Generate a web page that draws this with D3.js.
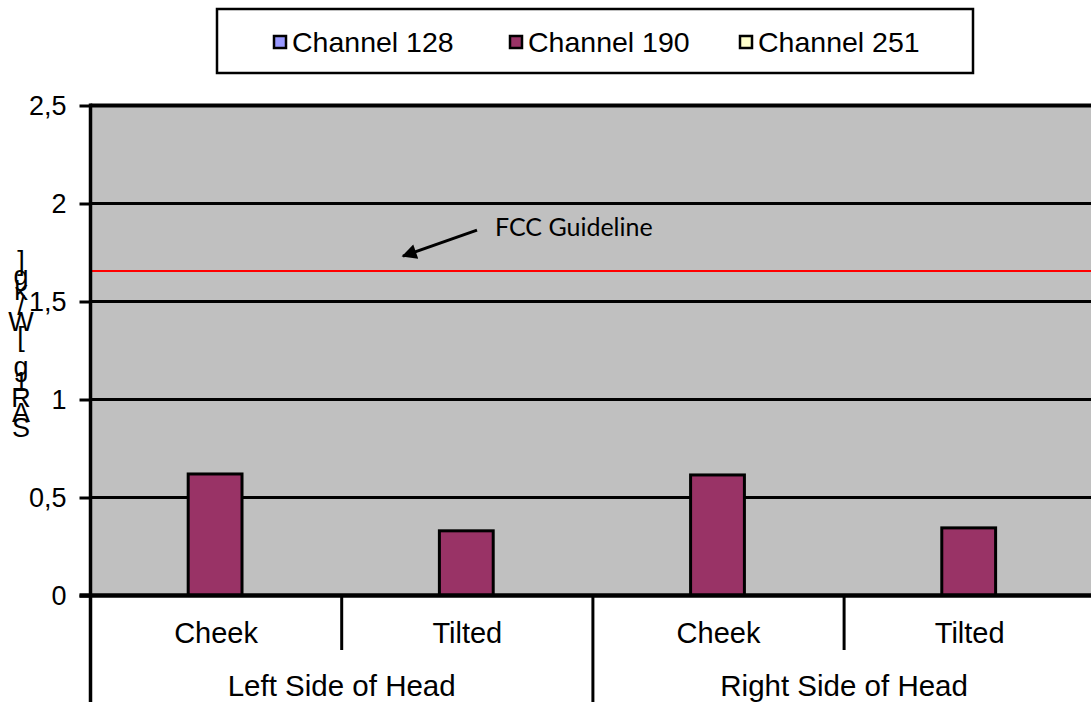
<!DOCTYPE html>
<html>
<head>
<meta charset="utf-8">
<script src="https://cdn.jsdelivr.net/npm/d3@7/dist/d3.min.js"></script>
<style>
  html, body { margin: 0; padding: 0; background: #fff; }
  svg { display: block; }
  text { font-family: "Liberation Sans", Arial, sans-serif; fill: #000; }
</style>
</head>
<body>
<svg id="chart" width="1091" height="702"></svg>
<script>
// ---- data ----
const categories = ["Cheek", "Tilted", "Cheek", "Tilted"];
const groups = ["Left Side of Head", "Right Side of Head"];
const seriesNames = ["Channel 128", "Channel 190", "Channel 251"];
const seriesColors = ["#9999FF", "#993366", "#FFFFCC"];
const channel128 = [null, null, null, null];
const channel190 = [0.62, 0.33, 0.615, 0.345];
const channel251 = [null, null, null, null];
const yTicks = [0, 0.5, 1, 1.5, 2, 2.5];
const yTickLabels = ["0", "0,5", "1", "1,5", "2", "2,5"];
const guideline = 1.655;
const guidelineLabel = "FCC Guideline";
const yAxisLabel = "SAR1g [W/kg]";

const seriesValues = [channel128, channel190, channel251];

(function () {
const svg = d3.select("#chart");
const pLeft = 90.5, pRight = 1095.3, pTop = 105.5, pBottom = 595.5;

const x = d3.scaleBand().domain(d3.range(categories.length)).range([pLeft, pRight]).padding(0);
const xs = d3.scaleBand().domain(d3.range(seriesNames.length)).range([0, x.bandwidth()])
  .paddingInner(0).paddingOuter(0.75);
const y = d3.scaleLinear().domain([0, 2.5]).range([pBottom, pTop]);

// plot background
svg.append("rect").attr("x", pLeft).attr("y", pTop).attr("width", pRight - pLeft).attr("height", pBottom - pTop)
  .attr("fill", "#C0C0C0");

// gridlines
svg.append("g").selectAll("line").data(yTicks.filter(d => d > 0)).join("line")
  .attr("x1", pLeft).attr("x2", 1091).attr("y1", d => y(d)).attr("y2", d => y(d))
  .attr("stroke", "#000").attr("stroke-width", d => d === 2.5 ? 4 : 2.8);

// guideline
svg.append("line").attr("x1", pLeft).attr("x2", 1091).attr("y1", y(guideline)).attr("y2", y(guideline))
  .attr("stroke", "#FF0000").attr("stroke-width", 2);

// bars
seriesValues.forEach((vals, si) => {
  svg.append("g").selectAll("rect").data(vals.map((v, i) => ({v, i})).filter(d => d.v !== null)).join("rect")
    .attr("x", d => x(d.i) + xs(si))
    .attr("width", xs.bandwidth() - 2)
    .attr("y", d => y(d.v))
    .attr("height", d => y(0) - y(d.v))
    .attr("fill", seriesColors[si])
    .attr("stroke", "#000").attr("stroke-width", 3);
});

// y axis
const yAxis = d3.axisLeft(y).tickValues(yTicks).tickSize(11).tickFormat((d, i) => yTickLabels[i]);
const ya = svg.append("g").attr("transform", `translate(${pLeft},0)`).call(yAxis);
ya.select(".domain").remove();
ya.selectAll(".tick line").attr("stroke", "#000").attr("stroke-width", 3);
ya.selectAll(".tick text").attr("x", -24).attr("font-size", 27)
  .style("font-family", "'Liberation Sans', Arial, sans-serif").attr("fill", "#000");
svg.append("line").attr("x1", pLeft).attr("x2", pLeft).attr("y1", pTop - 2).attr("y2", 702)
  .attr("stroke", "#000").attr("stroke-width", 3.5);

// x axis (zero line)
svg.append("line").attr("x1", pLeft - 11).attr("x2", 1091).attr("y1", y(0)).attr("y2", y(0))
  .attr("stroke", "#000").attr("stroke-width", 4.5);

// category separators
const bounds = d3.range(1, categories.length).map(i => x(i));
svg.append("g").selectAll("line").data(bounds).join("line")
  .attr("x1", d => d).attr("x2", d => d).attr("y1", y(0)).attr("y2", (d, i) => (i + 1) % 2 === 0 ? 702 : 650)
  .attr("stroke", "#000").attr("stroke-width", 3);

// category labels
svg.append("g").selectAll("text").data(categories).join("text")
  .attr("x", (d, i) => x(i) + x.bandwidth() / 2).attr("y", 643)
  .attr("text-anchor", "middle").attr("font-size", 29).text(d => d);

// group labels
svg.append("g").selectAll("text").data(groups).join("text")
  .attr("x", (d, i) => x(i * 2) + x.bandwidth()).attr("y", 696)
  .attr("text-anchor", "middle").attr("font-size", 29.5).text(d => d);

// y axis label: stacked characters, bottom to top
const chars = Array.from(yAxisLabel);
svg.append("g").selectAll("text").data(chars).join("text")
  .attr("x", 21).attr("y", (d, i) => 437 - i * 15.2)
  .attr("text-anchor", "middle").attr("font-size", 27).text(d => d);

// annotation
const defs = svg.append("defs");
defs.append("marker").attr("id", "ah").attr("viewBox", "0 0 10 10").attr("refX", 9).attr("refY", 5)
  .attr("markerWidth", 6).attr("markerHeight", 5).attr("orient", "auto").attr("markerUnits", "strokeWidth")
  .append("path").attr("d", "M0,0 L10,5 L0,10 z").attr("fill", "#000");
const gy = y(guideline);
svg.append("line").attr("x1", 477).attr("y1", gy - 41).attr("x2", 403).attr("y2", gy - 15)
  .attr("stroke", "#000").attr("stroke-width", 3).attr("marker-end", "url(#ah)");
svg.append("text").attr("x", 495).attr("y", gy - 35).attr("font-size", 25)
  .style("font-family", "Lato, 'Open Sans', sans-serif").text(guidelineLabel);

// legend
const lg = svg.append("g");
lg.append("rect").attr("x", 217).attr("y", 9).attr("width", 756).attr("height", 64)
  .attr("fill", "#fff").attr("stroke", "#000").attr("stroke-width", 2.5);
const legendX = [274, 510, 740];
seriesNames.forEach((name, i) => {
  lg.append("rect").attr("x", legendX[i]).attr("y", 36).attr("width", 12).attr("height", 12)
    .attr("fill", seriesColors[i]).attr("stroke", "#000").attr("stroke-width", 2.5);
  lg.append("text").attr("x", legendX[i] + 18).attr("y", 52).attr("font-size", 28.5).text(name);
});
})();
</script>
</body>
</html>
